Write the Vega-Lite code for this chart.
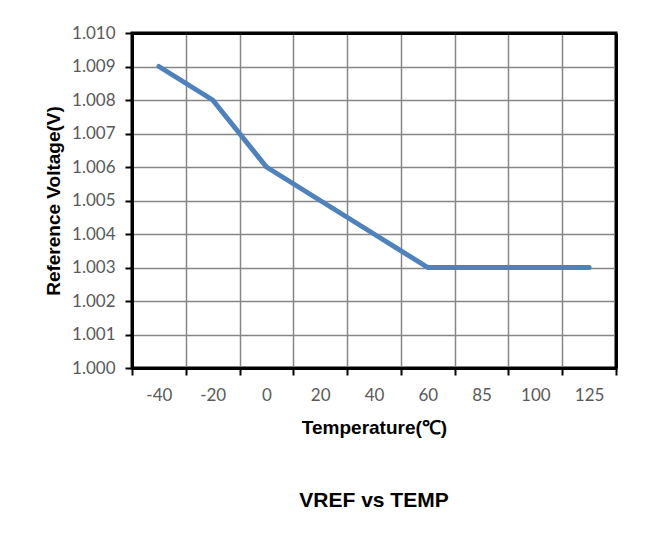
{
  "$schema": "https://vega.github.io/schema/vega-lite/v6.json",
  "autosize": "none",
  "width": 484,
  "height": 335,
  "padding": {"left": 132, "top": 33, "right": 34, "bottom": 184},
  "background": "white",
  "data": {
    "values": [
      {"temp": "-40", "vref": 1.009},
      {"temp": "-20", "vref": 1.008},
      {"temp": "0", "vref": 1.006},
      {"temp": "20", "vref": 1.005},
      {"temp": "40", "vref": 1.004},
      {"temp": "60", "vref": 1.003},
      {"temp": "85", "vref": 1.003},
      {"temp": "100", "vref": 1.003},
      {"temp": "125", "vref": 1.003}
    ]
  },
  "title": {
    "text": "VREF vs TEMP",
    "orient": "bottom",
    "anchor": "middle",
    "font": "Liberation Sans",
    "fontSize": 21,
    "fontWeight": "bold",
    "color": "#000000",
    "offset": 53
  },
  "resolve": {"axis": {"x": "independent", "y": "independent"}},
  "layer": [
    {
      "mark": {"type": "line", "color": "#4f81bd", "strokeWidth": 5, "strokeCap": "round", "strokeJoin": "round"},
      "encoding": {
        "x": {
          "field": "temp",
          "type": "ordinal",
          "sort": ["-40", "-20", "0", "20", "40", "60", "85", "100", "125"],
          "scale": {"paddingInner": 0, "paddingOuter": 0},
          "axis": {
            "title": "Temperature(℃)",
            "labelAngle": 0,
            "tickBand": "extent",
            "grid": true,
            "gridColor": "#868686",
            "gridWidth": 1.5,
            "gridOpacity": 1,
            "domainColor": "#000000",
            "domainWidth": 3,
            "tickColor": "#000000",
            "tickWidth": 2,
            "tickSize": 7,
            "labelPadding": 12,
            "labelFont": "Lato",
            "labelFontSize": 17,
            "labelColor": "#595959",
            "titleFont": "Liberation Sans",
            "titleFontSize": 19,
            "titleFontWeight": "bold",
            "titleColor": "#000000",
            "titlePadding": 15
          }
        },
        "y": {
          "field": "vref",
          "type": "quantitative",
          "scale": {"domain": [1.0, 1.01], "nice": false, "zero": false},
          "axis": {
            "title": "Reference Voltage(V)",
            "values": [1.0, 1.001, 1.002, 1.003, 1.004, 1.005, 1.006, 1.007, 1.008, 1.009, 1.01],
            "format": ".3f",
            "grid": true,
            "gridColor": "#868686",
            "gridWidth": 1.5,
            "gridOpacity": 1,
            "domainColor": "#000000",
            "domainWidth": 3,
            "tickColor": "#000000",
            "tickWidth": 2,
            "tickSize": 7,
            "labelPadding": 10,
            "labelFont": "Lato",
            "labelFontSize": 17,
            "labelColor": "#595959",
            "titleFont": "Liberation Sans",
            "titleFontSize": 19,
            "titleFontWeight": "bold",
            "titleColor": "#000000",
            "titlePadding": 8
          }
        }
      }
    },
    {
      "mark": {"type": "line", "opacity": 0},
      "encoding": {
        "x": {
          "field": "temp",
          "type": "ordinal",
          "sort": ["-40", "-20", "0", "20", "40", "60", "85", "100", "125"],
          "axis": {
            "orient": "top",
            "title": null,
            "labels": false,
            "ticks": false,
            "grid": false,
            "domainColor": "#000000",
            "domainWidth": 3,
            "zindex": 1
          }
        },
        "y": {
          "field": "vref",
          "type": "quantitative",
          "axis": {
            "orient": "right",
            "title": null,
            "labels": false,
            "ticks": false,
            "grid": false,
            "domainColor": "#000000",
            "domainWidth": 3,
            "zindex": 1
          }
        }
      }
    }
  ],
  "config": {
    "view": {"stroke": "#000000", "strokeWidth": 3}
  }
}
